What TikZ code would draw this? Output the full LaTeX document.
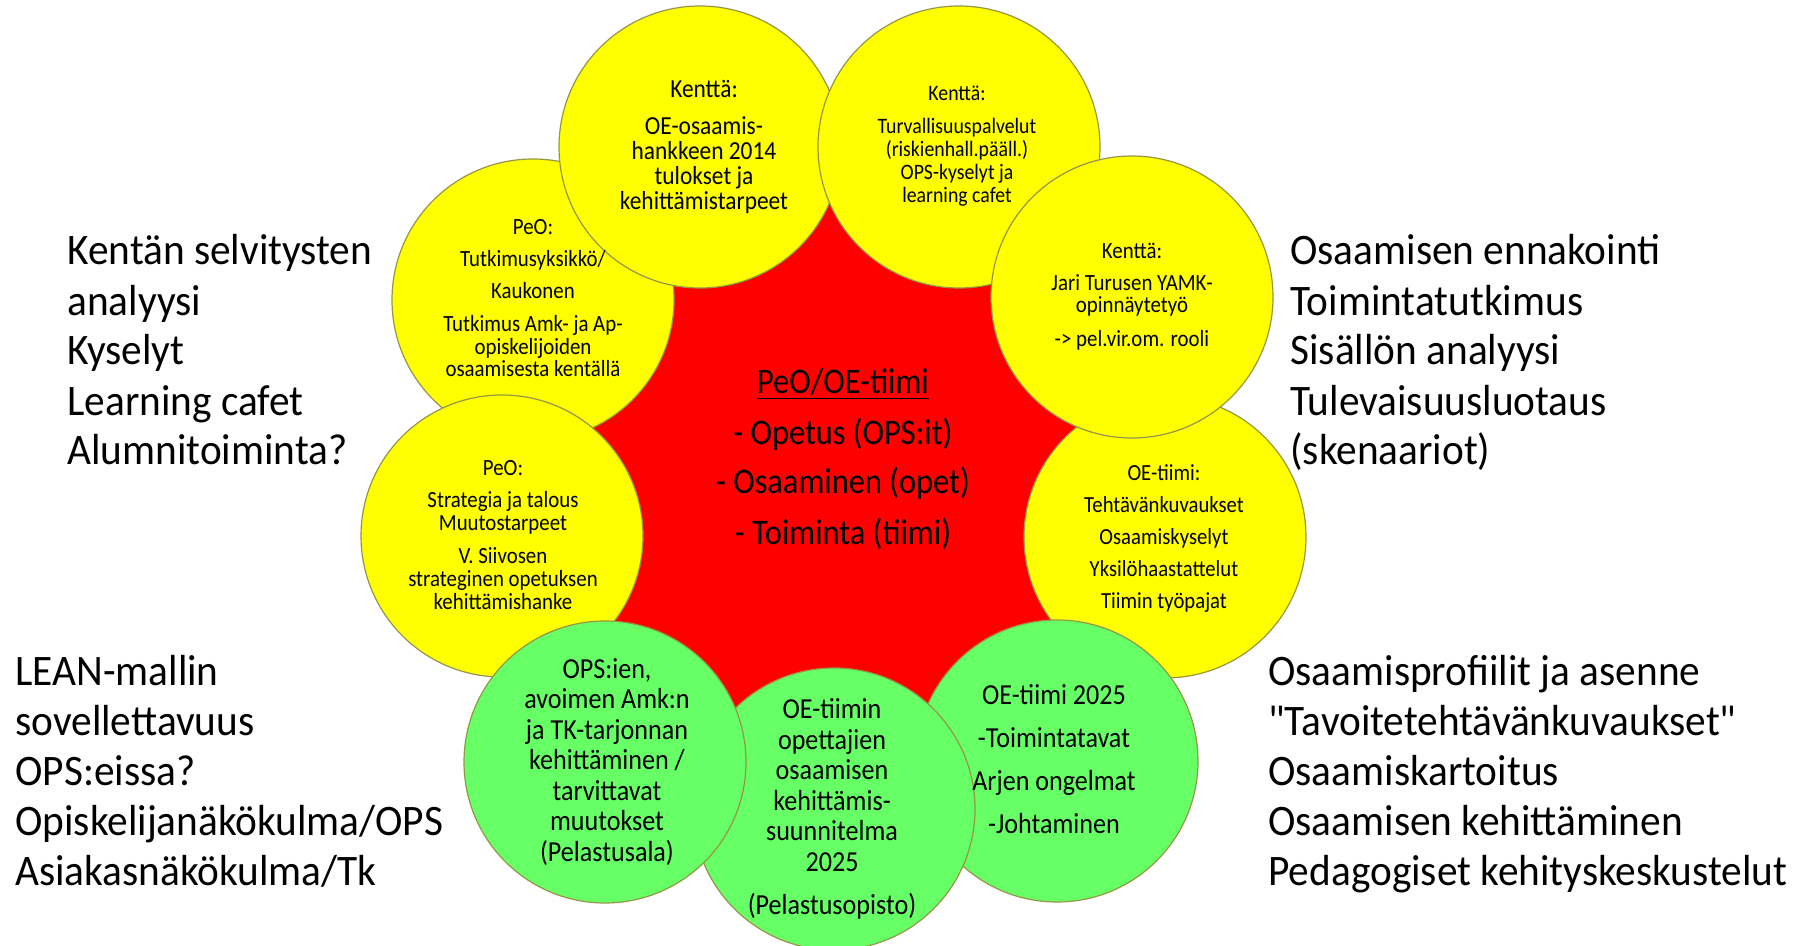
\documentclass[tikz,border=0pt]{standalone}
\usepackage{fontspec}
\newfontfamily\cfont[FakeStretch=0.9]{Carlito}
\newfontfamily\sidefont[FakeStretch=0.95]{Carlito}
\definecolor{ylw}{RGB}{255,255,0}
\definecolor{grn}{RGB}{102,255,102}
\definecolor{rd}{RGB}{255,0,0}
\definecolor{rim}{RGB}{150,150,70}
\begin{document}
\begin{tikzpicture}[x=0.5pt,y=-0.5pt,
  bub/.style={circle,draw=rim,line width=0.6pt,minimum size=141pt,inner sep=0pt},
  ybub/.style={bub,fill=ylw},
  gbub/.style={bub,fill=grn},
  txt/.style={inner sep=0pt,anchor=base,align=center,text=black},
  fs/.style n args={2}{font={\cfont\fontsize{#1}{#2}\selectfont\lineskiplimit=-40pt}},
  side/.style={inner sep=0pt,anchor=base west,align=left,text=black,
    font={\sidefont\fontsize{21.75}{25}\selectfont\lineskiplimit=-40pt}}]
\fill[white] (0,0) rectangle (1815,946);
\useasboundingbox (0,0) rectangle (1815,946);
% core
\node[circle,fill=rd,minimum size=275pt,inner sep=0pt] (core) at (831,477) {};
% bubbles (bottom to top)
\node[ybub] (c9) at (533,300) {};
\node[ybub] (c1) at (700,147) {};
\node[ybub] (c2) at (959,147) {};
\node[ybub] (c4) at (1165,537) {};
\node[ybub] (c3) at (1132,297) {};
\node[gbub] (c5) at (1057,761) {};
\node[gbub] (c6) at (834,809) {};
\node[ybub] (c8) at (502,536) {};
\node[gbub] (c7) at (605,762) {};
% texts (anchored at the baseline of the last line)
\node[txt,fs={13}{12.5}] (t1) at (704,210) {Kenttä:\\[6pt]OE-osaamis-\\hankkeen 2014\\tulokset ja\\kehittämistarpeet};
\node[txt,fs={11}{11.5}] (t2) at (957,203) {Kenttä:\\[5pt]Turvallisuuspalvelut\\(riskienhall.pääll.)\\OPS-kyselyt ja\\learning cafet};
\node[txt,fs={11.6}{11}] (t3) at (1132,347) {Kenttä:\\[5pt]Jari Turusen YAMK-\\opinnäytetyö\\[6pt]-> pel.vir.om. rooli};
\node[txt,fs={11.5}{16}] (t4) at (1164,608) {OE-tiimi:\\Tehtävänkuvaukset\\Osaamiskyselyt\\Yksilöhaastattelut\\Tiimin työpajat};
\node[txt,fs={14.5}{21.5}] (t5) at (1054,833) {OE-tiimi 2025\\-Toimintatavat\\Arjen ongelmat\\-Johtaminen};
\node[txt,fs={14.5}{15.25}] (t6) at (832,914) {OE-tiimin\\opettajien\\osaamisen\\kehittämis-\\suunnitelma\\2025\\[6.25pt](Pelastusopisto)};
\node[txt,fs={14.5}{15.25}] (t7) at (607,861) {OPS:ien,\\avoimen Amk:n\\ja TK-tarjonnan\\kehittäminen /\\tarvittavat\\muutokset\\(Pelastusala)};
\node[txt,fs={11.6}{11.5}] (t8) at (503,609) {PeO:\\[5pt]Strategia ja talous\\Muutostarpeet\\[4.5pt]V. Siivosen\\strateginen opetuksen\\kehittämishanke};
\node[txt,fs={11.6}{11.25}] (t9) at (533,377) {PeO:\\[4.75pt]Tutkimusyksikkö/\\[4.75pt]Kaukonen\\[5.25pt]Tutkimus Amk- ja Ap-\\opiskelijoiden\\osaamisesta kentällä};
\node[txt,fs={18}{25}] (tc) at (843,544) {\underline{PeO/OE-tiimi}\\- Opetus (OPS:it)\\- Osaaminen (opet)\\- Toiminta (tiimi)};
% side texts
\node[side] (l1) at (67,465) {Kentän selvitysten\\analyysi\\Kyselyt\\Learning cafet\\Alumnitoiminta?};
\node[side] (l2) at (15,885) {LEAN-mallin\\sovellettavuus\\OPS:eissa?\\Opiskelijanäkökulma/OPS\\Asiakasnäkökulma/Tk};
\node[side] (r1) at (1290,465) {Osaamisen ennakointi\\Toimintatutkimus\\Sisällön analyysi\\Tulevaisuusluotaus\\(skenaariot)};
\node[side] (r2) at (1268,885) {Osaamisprofiilit ja asenne\\"Tavoitetehtävänkuvaukset"\\Osaamiskartoitus\\Osaamisen kehittäminen\\Pedagogiset kehityskeskustelut};
\end{tikzpicture}
\end{document}
